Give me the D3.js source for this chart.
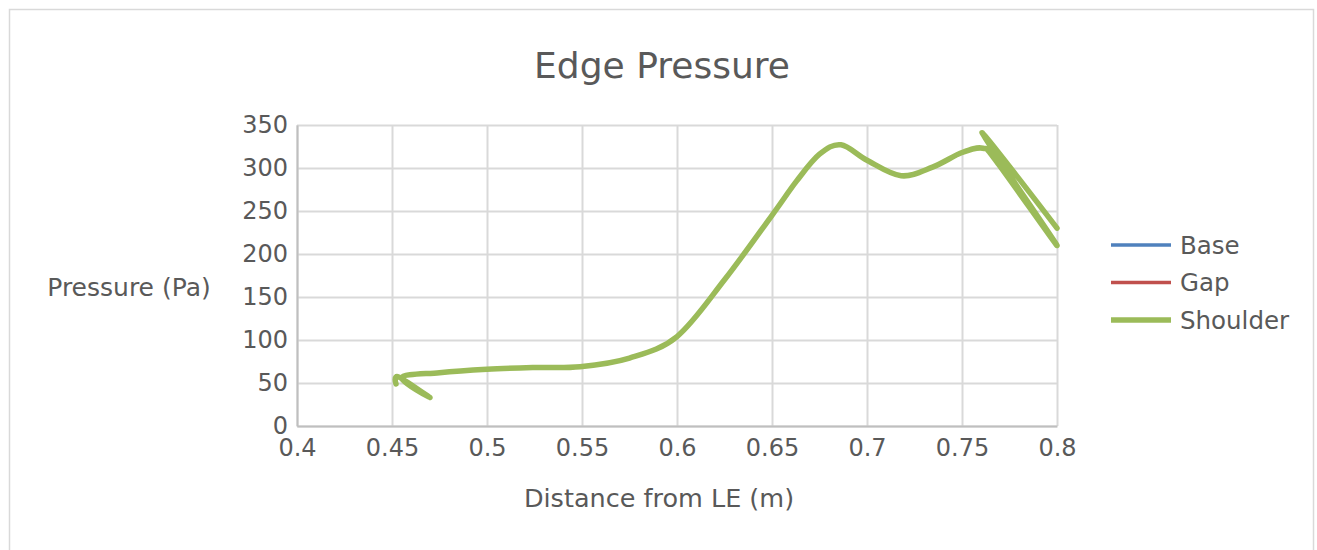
<!DOCTYPE html>
<html>
<head>
<meta charset="utf-8">
<script src="https://cdn.jsdelivr.net/npm/d3@7"></script>
<style>
	body { margin: 0; background: #fff; }
	text { font-family: "DejaVu Sans", Verdana, sans-serif; fill: #595959; }
</style>
</head>
<body>
<div id="chart"></div>
<script>
// distance from LE (m) and pressure (Pa), in the order the points were exported
const shoulderX = [0.4521, 0.4535, 0.470, 0.455, 0.475, 0.5, 0.525, 0.549, 0.575, 0.6, 0.625, 0.65, 0.663, 0.675, 0.6863, 0.7, 0.718, 0.7345, 0.75, 0.761, 0.768, 0.8, 0.7605, 0.8];
const shoulderP = [49, 57, 33, 56, 62, 66, 68, 69, 79, 104, 170, 245, 285, 316, 327, 309, 291, 301, 318, 323, 308, 210, 341, 230];
// Base and Gap sit exactly under Shoulder in the picture
const baseX = shoulderX.slice();
const baseP = shoulderP.slice();
const gapX = shoulderX.slice();
const gapP = shoulderP.slice();

const seriesNames = ['Base', 'Gap', 'Shoulder'];
const seriesColors = ['#4F81BD', '#C0504D', '#9BBB59'];
const xTicks = [0.4, 0.45, 0.5, 0.55, 0.6, 0.65, 0.7, 0.75, 0.8];
const yTicks = [0, 50, 100, 150, 200, 250, 300, 350];

class EdgeChart {
	constructor(_config) {
		this.config = {
			parentElement: _config.parentElement,
			containerWidth: 1317,
			containerHeight: 550,
			plotLeft: 297,
			plotRight: 1057,
			plotTop: 125,
			plotBottom: 426,
		}
		this.initVis();
	}

	initVis() {
		let vis = this;
		let c = vis.config;
		vis.svg = d3.select(c.parentElement).append('svg')
			.attr('width', c.containerWidth)
			.attr('height', c.containerHeight);

		// chart frame
		vis.svg.append('rect')
			.attr('x', 9.5).attr('y', 9.5)
			.attr('width', 1304).attr('height', 560)
			.attr('fill', '#fff')
			.attr('stroke', '#d9d9d9')
			.attr('stroke-width', 1.5);

		vis.xScale = d3.scaleLinear().domain([0.4, 0.8]).range([c.plotLeft, c.plotRight]);
		vis.yScale = d3.scaleLinear().domain([0, 350]).range([c.plotBottom, c.plotTop]);

		vis.svg.append('text')
			.attr('x', 662).attr('y', 78)
			.attr('text-anchor', 'middle')
			.attr('font-size', 36)
			.text('Edge Pressure');

		vis.svg.append('text')
			.attr('x', 659).attr('y', 507)
			.attr('text-anchor', 'middle')
			.attr('font-size', 25.5)
			.text('Distance from LE (m)');

		vis.svg.append('text')
			.attr('x', 129).attr('y', 296)
			.attr('text-anchor', 'middle')
			.attr('font-size', 25)
			.text('Pressure (Pa)');

		vis.updateVis();
	}

	updateVis() {
		let vis = this;
		vis.series = seriesNames.map((name, i) => {
			let xs = [baseX, gapX, shoulderX][i];
			let ps = [baseP, gapP, shoulderP][i];
			return { name: name, color: seriesColors[i], points: xs.map((x, j) => [x, ps[j]]) };
		});
		vis.renderVis();
	}

	renderVis() {
		let vis = this;
		let c = vis.config;

		// gridlines
		vis.svg.append('g')
			.attr('transform', `translate(0,${c.plotBottom})`)
			.call(d3.axisBottom(vis.xScale).tickValues(xTicks).tickSize(c.plotTop - c.plotBottom).tickFormat(''))
			.call(g => g.select('.domain').remove())
			.call(g => g.selectAll('line').attr('stroke', '#d9d9d9').attr('stroke-width', 2));

		vis.svg.append('g')
			.attr('transform', `translate(${c.plotLeft},0)`)
			.call(d3.axisLeft(vis.yScale).tickValues(yTicks).tickSize(c.plotLeft - c.plotRight).tickFormat(''))
			.call(g => g.select('.domain').remove())
			.call(g => g.selectAll('line').attr('stroke', '#d9d9d9').attr('stroke-width', 2));

		// axes
		let xAxis = vis.svg.append('g')
			.attr('transform', `translate(0,${c.plotBottom})`)
			.call(d3.axisBottom(vis.xScale).tickValues(xTicks).tickSize(0).tickPadding(13).tickFormat(d => d3.format('')(d)));
		xAxis.select('.domain').attr('stroke', '#bfbfbf').attr('stroke-width', 2);
		xAxis.selectAll('text').attr('font-size', 24).attr('fill', '#595959').attr('font-family', 'DejaVu Sans');

		let yAxis = vis.svg.append('g')
			.attr('transform', `translate(${c.plotLeft},0)`)
			.call(d3.axisLeft(vis.yScale).tickValues(yTicks).tickSize(0).tickPadding(9));
		yAxis.select('.domain').attr('stroke', '#bfbfbf').attr('stroke-width', 2);
		yAxis.selectAll('text').attr('font-size', 24).attr('fill', '#595959').attr('font-family', 'DejaVu Sans');

		// series
		let line = d3.line()
			.x(d => vis.xScale(d[0]))
			.y(d => vis.yScale(d[1]))
			.curve(d3.curveCardinal.tension(0));

		vis.svg.append('g').selectAll('path')
			.data(vis.series)
			.join('path')
			.attr('d', d => line(d.points))
			.attr('fill', 'none')
			.attr('stroke', d => d.color)
			.attr('stroke-width', (d, i) => i == 2 ? 5.5 : 3.5)
			.attr('stroke-linecap', 'round')
			.attr('stroke-linejoin', 'round');

		// legend
		let legend = vis.svg.append('g').attr('transform', 'translate(1111,245)');
		let items = legend.selectAll('g')
			.data(vis.series)
			.join('g')
			.attr('transform', (d, i) => `translate(0,${i * 37.5})`);
		items.append('line')
			.attr('x1', 0).attr('x2', 60)
			.attr('stroke', d => d.color)
			.attr('stroke-width', (d, i) => i == 2 ? 5.5 : 3.5);
		items.append('text')
			.attr('x', 69).attr('dy', '0.35em')
			.attr('font-size', 24.5)
			.text(d => d.name);
	}
}

new EdgeChart({ parentElement: '#chart' });
</script>
</body>
</html>
